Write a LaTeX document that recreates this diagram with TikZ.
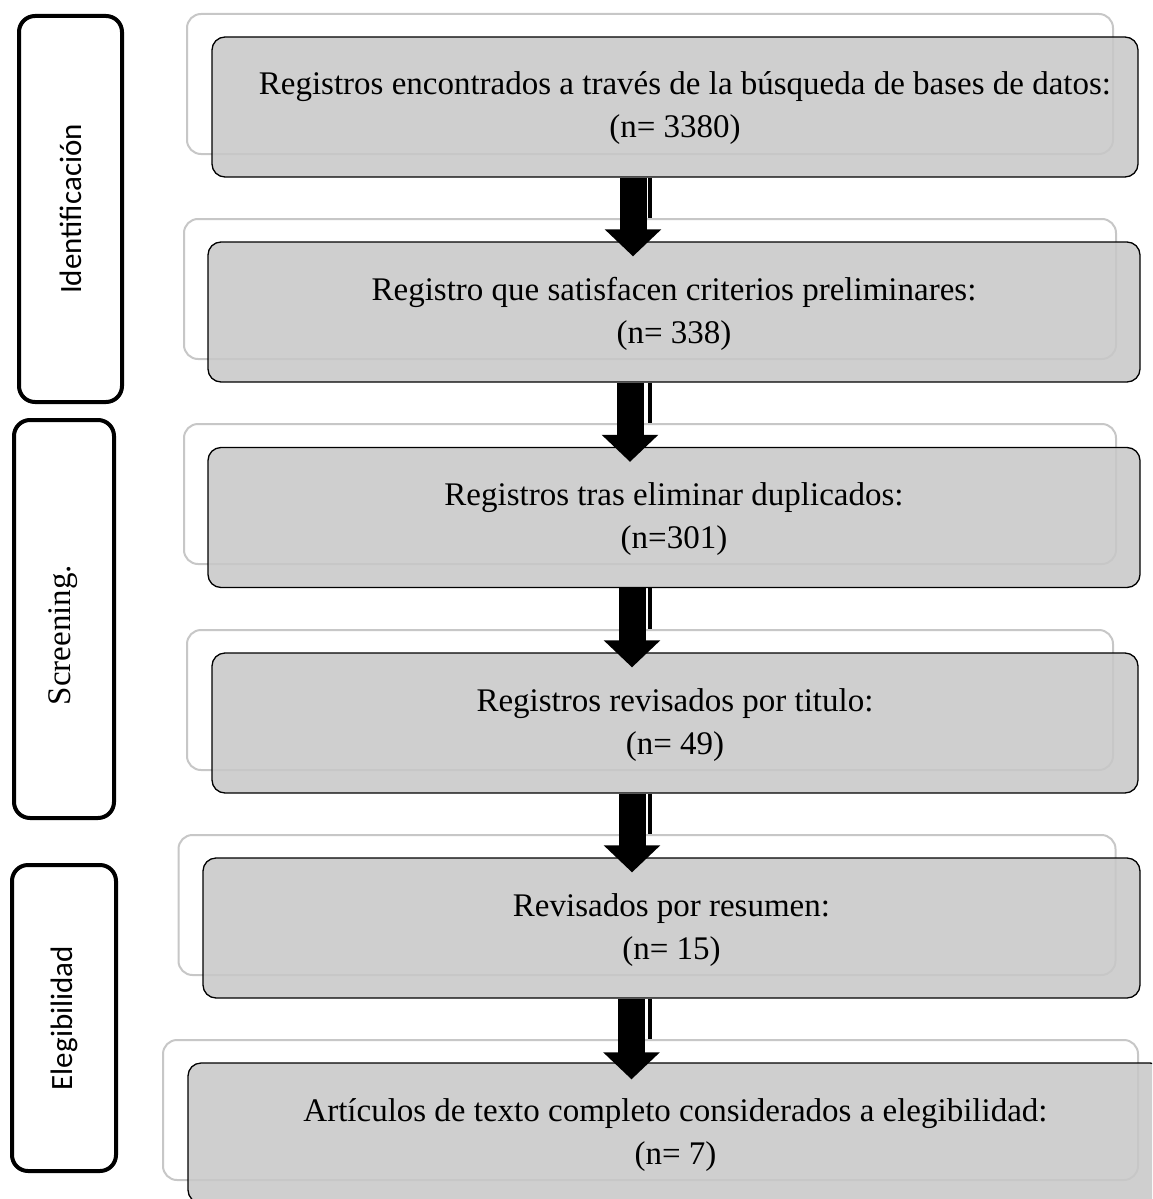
\documentclass[tikz,border=0pt]{standalone}
\usepackage{fontspec}
\usepackage{graphicx}
\setmainfont{Liberation Serif}
\newfontfamily\stagefont{Carlito}
\usetikzlibrary{arrows.meta,calc}

\begin{document}
\begin{tikzpicture}[x=1pt,y=-1pt,
      stage/.style={rectangle,rounded corners=16pt,line width=4pt,draw=black,fill=white,rotate=90,inner sep=0pt,font=\stagefont\fontsize{31}{36}\selectfont},
      stagetext/.style={inner sep=0pt,font=\rmfamily\fontsize{33}{36}\selectfont},
      back/.style={rectangle,rounded corners=14pt,line width=2pt,draw=black!22,fill=white,minimum height=140pt,inner sep=0pt},
      record/.style={rectangle,rounded corners=13pt,line width=1.3pt,draw=black,fill=black!22,fill opacity=0.85,text opacity=1,
        minimum height=140pt,inner sep=0pt,font=\fontsize{33}{43}\selectfont},
      flow/.style={-{Triangle[width=55pt,length=27pt]},line width=27pt,black},
      flowshade/.style={line width=4pt,black}]
      \useasboundingbox (0,0) rectangle (1152,1199);
      \clip (0,0) rectangle (1152,1199);
      % phases on the left
      \node[stage,minimum width=386pt,minimum height=103pt] (id) at (70.5,209) {Identificación};
      \node[stage,minimum width=398pt,minimum height=100pt] (scr) at (64,619) {};
      \node[stagetext] (scrtext) at (63,635) {\rotatebox{90}{Screening.}};
      \node[stage,minimum width=306pt,minimum height=104pt] (eleg) at (64,1018) {Elegibilidad};
      % white boxes behind
      \node[back,minimum width=926pt] (b1) at (650,84) {};
      \node[back,minimum width=932pt] (b2) at (650,289) {};
      \node[back,minimum width=932pt] (b3) at (650,494) {};
      \node[back,minimum width=926pt] (b4) at (650,700) {};
      \node[back,minimum width=937pt] (b5) at (647,905) {};
      \node[back,minimum width=975pt] (b6) at (650.5,1110) {};
      % records
      \node[record,minimum width=926pt] (s1) at (675,107) {\begin{tabular}{c}\rule{0pt}{32pt}\hspace{20pt}Registros encontrados a través de la búsqueda de bases de datos:\\(n= 3380)\rule[-13pt]{0pt}{13pt}\end{tabular}};
      \node[record,minimum width=932pt] (s2) at (674,312) {\begin{tabular}{c}\rule{0pt}{32pt}Registro que satisfacen criterios preliminares:\\(n= 338)\rule[-13pt]{0pt}{13pt}\end{tabular}};
      \node[record,minimum width=932pt] (s3) at (674,517.5) {\begin{tabular}{c}\rule{0pt}{32pt}Registros tras eliminar duplicados:\\(n=301)\rule[-13pt]{0pt}{13pt}\end{tabular}};
      \node[record,minimum width=926pt] (s4) at (675,723) {\begin{tabular}{c}\rule{0pt}{32pt}Registros revisados por titulo:\\(n= 49)\rule[-13pt]{0pt}{13pt}\end{tabular}};
      \node[record,minimum width=937pt] (s5) at (671.5,928) {\begin{tabular}{c}\rule{0pt}{32pt}Revisados por resumen:\\(n= 15)\rule[-13pt]{0pt}{13pt}\end{tabular}};
      \node[record,minimum width=975pt] (s6) at (675.5,1133) {\begin{tabular}{c}\rule{0pt}{32pt}Artículos de texto completo considerados a elegibilidad:\\(n= 7)\rule[-13pt]{0pt}{13pt}\end{tabular}};
      % arrows
      \draw[flowshade] ($(s1.south)+(-25,0)$) -- ($(s1.south |- b2.north)+(-25,0)$);
      \draw[flowshade] ($(s2.south)+(-24,0)$) -- ($(s2.south |- b3.north)+(-24,0)$);
      \draw[flowshade] ($(s3.south)+(-24,0)$) -- ($(s3.south |- b4.north)+(-24,0)$);
      \draw[flowshade] ($(s4.south)+(-25,0)$) -- ($(s4.south |- b5.north)+(-25,0)$);
      \draw[flowshade] ($(s5.south)+(-21.5,0)$) -- ($(s5.south |- b6.north)+(-21.5,0)$);
      \draw[flow] ($(s1.south)+(-42,0)$) -- ($(s1.south |- s2.north)+(-42,15)$);
      \draw[flow] ($(s2.south)+(-44,0)$) -- ($(s2.south |- s3.north)+(-44,15)$);
      \draw[flow] ($(s3.south)+(-42,0)$) -- ($(s3.south |- s4.north)+(-42,15)$);
      \draw[flow] ($(s4.south)+(-43,0)$) -- ($(s4.south |- s5.north)+(-43,15)$);
      \draw[flow] ($(s5.south)+(-40,0)$) -- ($(s5.south |- s6.north)+(-40,17)$);
    \end{tikzpicture}
\end{document}
